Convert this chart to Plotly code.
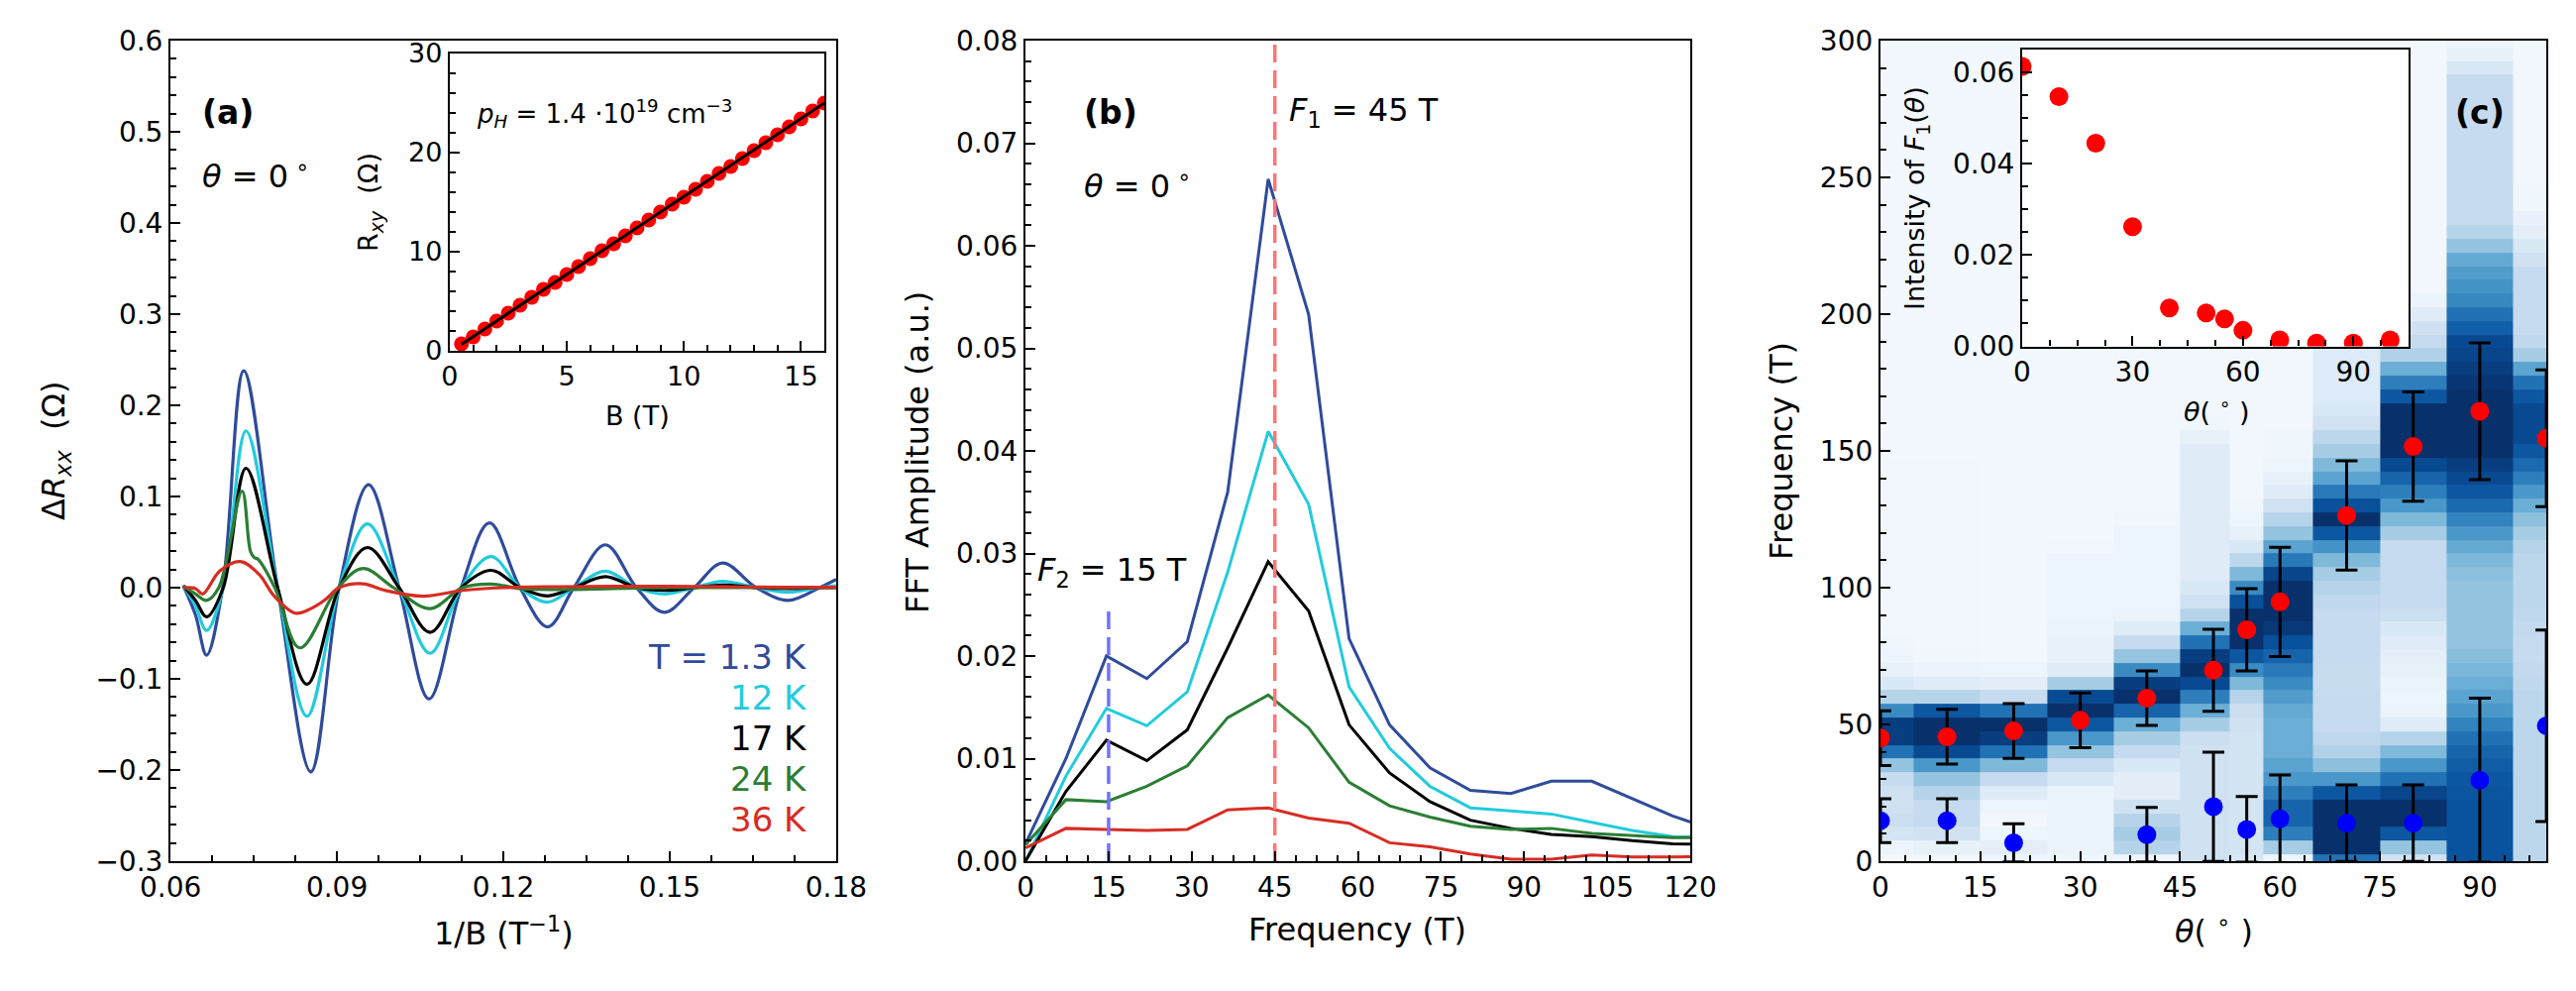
import plotly.graph_objects as go

FONT = "DejaVu Sans"

# ---------------- (a) oscillatory part of Rxx vs 1/B ----------------
temp_labels = ["T = 1.3 K", "12 K", "17 K", "24 K", "36 K"]
temp_colors = ["#2f4b9b", "#22cbdc", "#000000", "#2a7e34", "#d62d24"]

invb_13 = [0.0623, 0.0645, 0.0665, 0.0694, 0.0732, 0.0793, 0.0853, 0.0904, 0.0957, 0.1012,
           0.1066, 0.1124, 0.1175, 0.1230, 0.1280, 0.1327, 0.1384, 0.1440, 0.1490, 0.1544,
           0.1595, 0.1656, 0.1713, 0.1770, 0.1800]
drxx_13 = [0.002, -0.030, -0.074, 0.000, 0.238, 0.000, -0.202, 0.000, 0.113, 0.000,
           -0.122, 0.000, 0.071, 0.000, -0.043, 0.000, 0.047, 0.000, -0.027, 0.000,
           0.027, 0.000, -0.014, 0.000, 0.009]

invb_12 = [0.0623, 0.0645, 0.0665, 0.0695, 0.0736, 0.0793, 0.0846, 0.0904, 0.0955, 0.1012,
           0.1068, 0.1124, 0.1178, 0.1230, 0.1280, 0.1327, 0.1384, 0.1440, 0.1490, 0.1544,
           0.1595, 0.1656, 0.1713, 0.1770, 0.1800]
drxx_12 = [0.002, -0.020, -0.047, 0.000, 0.172, 0.000, -0.141, 0.000, 0.070, 0.000,
           -0.072, 0.000, 0.034, 0.000, -0.016, 0.000, 0.018, 0.000, -0.007, 0.000,
           0.007, 0.000, -0.005, 0.000, 0.002]

invb_17 = invb_12
drxx_17 = [0.002, -0.014, -0.032, 0.000, 0.131, 0.000, -0.106, 0.000, 0.044, 0.000,
           -0.049, 0.000, 0.019, 0.000, -0.009, 0.000, 0.012, 0.000, -0.003, 0.000,
           0.003, 0.000, -0.001, 0.000, 0.000]

invb_24 = [0.0623, 0.0645, 0.0665, 0.0687, 0.0729, 0.0744, 0.0751, 0.0758, 0.0788, 0.0833,
           0.0902, 0.0947, 0.1002, 0.1068, 0.1126, 0.1178, 0.1230, 0.1300, 0.1400, 0.1500,
           0.1600, 0.1700, 0.1800]
drxx_24 = [0.002, -0.007, -0.014, 0.000, 0.106, 0.040, 0.033, 0.031, 0.000, -0.066,
           0.000, 0.021, 0.000, -0.023, 0.000, 0.004, -0.001, -0.002, -0.001, 0.000,
           0.000, 0.000, 0.000]

invb_36 = [0.0623, 0.0645, 0.0658, 0.0689, 0.0726, 0.0759, 0.0788, 0.0825, 0.0853, 0.0878,
           0.0904, 0.0947, 0.0987, 0.1056, 0.1126, 0.1200, 0.1300, 0.1400, 0.1500, 0.1600,
           0.1700, 0.1800]
drxx_36 = [0.000, -0.001, -0.007, 0.0186, 0.0287, 0.015, -0.010, -0.028, -0.023, -0.0136,
           0.000, 0.0043, -0.003, -0.0093, -0.003, 0.000, 0.001, 0.0015, 0.0015, 0.001,
           0.0005, 0.0005]

# inset (a): Hall resistance
hall_b = [0.5, 1.0, 1.5, 2.0, 2.5, 3.0, 3.5, 4.0, 4.5, 5.0, 5.5, 6.0, 6.5, 7.0, 7.5, 8.0,
          8.5, 9.0, 9.5, 10.0, 10.5, 11.0, 11.5, 12.0, 12.5, 13.0, 13.5, 14.0, 14.5, 15.0,
          15.5, 16.0]
hall_r = [0.7, 1.4, 2.2, 3.0, 3.8, 4.6, 5.4, 6.2, 6.9, 7.7, 8.5, 9.3, 10.1, 10.8, 11.6, 12.4,
          13.2, 14.0, 14.8, 15.5, 16.3, 17.1, 17.9, 18.6, 19.4, 20.2, 21.0, 21.8, 22.6, 23.4,
          24.2, 25.0]
fit_b = [0.5, 16.0]
fit_r = [0.65, 25.0]

# ---------------- (b) FFT amplitude ----------------
fft_freq = [0, 7.3, 14.6, 21.9, 29.2, 36.5, 43.8, 51.1, 58.4, 65.7, 73.0, 80.3, 87.6, 94.9,
            102.2, 109.5, 116.8, 124.1]
fft_13 = [0.0017, 0.0100, 0.0200, 0.0178, 0.0214, 0.0360, 0.0665, 0.0533, 0.0217, 0.0133,
          0.0091, 0.0069, 0.0066, 0.0078, 0.0078, 0.0061, 0.0044, 0.0031]
fft_12 = [0.0000, 0.0083, 0.0149, 0.0132, 0.0165, 0.0282, 0.0419, 0.0348, 0.0170, 0.0110,
          0.0073, 0.0052, 0.0049, 0.0046, 0.0038, 0.0030, 0.0024, 0.0023]
fft_17 = [0.0000, 0.0068, 0.0118, 0.0098, 0.0128, 0.0208, 0.0292, 0.0244, 0.0133, 0.0086,
          0.0058, 0.0040, 0.0032, 0.0026, 0.0024, 0.0020, 0.0017, 0.0016]
fft_24 = [0.0016, 0.0060, 0.0058, 0.0073, 0.0093, 0.0140, 0.0162, 0.0130, 0.0077, 0.0054,
          0.0043, 0.0034, 0.0031, 0.0032, 0.0027, 0.0025, 0.0023, 0.0023]
fft_36 = [0.0013, 0.0032, 0.0031, 0.0030, 0.0031, 0.0050, 0.0052, 0.0042, 0.0037, 0.0018,
          0.0014, 0.0007, 0.0002, 0.0002, 0.0006, 0.0004, 0.0004, 0.0005]
F1 = 45
F2 = 15
F1_line_top = 0.08
F2_line_top = 0.025

# ---------------- (c) angular dependence ----------------
angles = [0, 10, 20, 30, 40, 50, 55, 60, 70, 80, 90, 100]
f1_angle = [45, 45.5, 47.6, 51.5, 59.6, 69.8, 84.6, 94.8, 126.4, 151.6, 164.5, 154.6]
f1_err = [10, 10, 10, 10, 10, 15, 15, 20, 20, 20, 25, 25]
f2_angle = [0, 10, 20, 40, 50, 55, 60, 70, 80, 90, 100]
f2_val = [14.8, 14.8, 6.7, 9.7, 19.9, 11.6, 15.5, 13.9, 13.9, 29.6, 49.5]
f2_err = [8, 8, 7, 10, 20, 12, 16, 14, 14, 30, 35]

# inset (c): intensity of F1
int_angle = [0, 10, 20, 30, 40, 50, 55, 60, 70, 80, 90, 100]
int_f1 = [0.0613, 0.0547, 0.0445, 0.0262, 0.0084, 0.0073, 0.0060, 0.0035, 0.0014, 0.0007,
          0.0007, 0.0014]

# FFT map (normalised intensity) sampled every 5 T from 0 to 300 T, one list per angle
heat_freq = [0, 5, 10, 15, 20, 25, 30, 35, 40, 45, 50, 55, 60, 65, 70, 75, 80, 85, 90, 95,
             100, 105, 110, 115, 120, 125, 130, 135, 140, 145, 150, 155, 160, 165, 170, 175,
             180, 185, 190, 195, 200, 205, 210, 215, 220, 225, 230, 235, 240, 245, 250, 255,
             260, 265, 270, 275, 280, 285, 290, 295, 300]
map_0 = [0.02, 0.05, 0.18, 0.22, 0.20, 0.20, 0.25, 0.40, 0.75, 0.95,
         0.95, 0.65, 0.30, 0.15, 0.08, 0.05, 0.04, 0.03, 0.03, 0.03,
         0.03, 0.03, 0.03, 0.03, 0.03, 0.03, 0.03, 0.03, 0.03, 0.03,
         0.02, 0.02, 0.02, 0.02, 0.02, 0.02, 0.02, 0.02, 0.02, 0.02,
         0.02, 0.02, 0.02, 0.02, 0.02, 0.02, 0.02, 0.02, 0.02, 0.02,
         0.02, 0.02, 0.02, 0.02, 0.02, 0.02, 0.02, 0.02, 0.02, 0.02, 0.02]
map_10 = [0.03, 0.08, 0.20, 0.25, 0.25, 0.30, 0.40, 0.60, 0.90, 1.00,
          1.00, 0.85, 0.30, 0.12, 0.06, 0.04, 0.03, 0.03, 0.03, 0.03,
          0.03, 0.03, 0.03, 0.03, 0.03, 0.03, 0.03, 0.03, 0.03, 0.03,
          0.02, 0.02, 0.02, 0.02, 0.02, 0.02, 0.02, 0.02, 0.02, 0.02,
          0.02, 0.02, 0.02, 0.02, 0.02, 0.02, 0.02, 0.02, 0.02, 0.02,
          0.02, 0.02, 0.02, 0.02, 0.02, 0.02, 0.02, 0.02, 0.02, 0.02, 0.02]
map_20 = [0.05, 0.10, 0.05, 0.03, 0.05, 0.12, 0.25, 0.45, 0.75, 0.95,
          1.00, 0.75, 0.25, 0.10, 0.05, 0.03, 0.02, 0.02, 0.02, 0.02,
          0.02, 0.02, 0.02, 0.02, 0.02, 0.02, 0.02, 0.02, 0.02, 0.02,
          0.02, 0.02, 0.02, 0.02, 0.02, 0.02, 0.02, 0.02, 0.02, 0.02,
          0.02, 0.02, 0.02, 0.02, 0.02, 0.02, 0.02, 0.02, 0.02, 0.02,
          0.02, 0.02, 0.02, 0.02, 0.02, 0.02, 0.02, 0.02, 0.02, 0.02, 0.02]
map_30 = [0.05, 0.06, 0.06, 0.06, 0.06, 0.06, 0.15, 0.25, 0.40, 0.60,
          0.85, 1.00, 0.90, 0.35, 0.12, 0.08, 0.07, 0.06, 0.05, 0.05,
          0.05, 0.05, 0.05, 0.03, 0.02, 0.02, 0.02, 0.02, 0.02, 0.02,
          0.02, 0.02, 0.02, 0.02, 0.02, 0.02, 0.02, 0.02, 0.02, 0.02,
          0.02, 0.02, 0.02, 0.02, 0.02, 0.02, 0.02, 0.02, 0.02, 0.02,
          0.02, 0.02, 0.02, 0.02, 0.02, 0.02, 0.02, 0.02, 0.02, 0.02, 0.02]
map_40 = [0.05, 0.30, 0.35, 0.30, 0.20, 0.10, 0.10, 0.15, 0.25, 0.35,
          0.50, 0.80, 1.00, 0.95, 0.65, 0.40, 0.25, 0.12, 0.06, 0.05,
          0.05, 0.05, 0.05, 0.05, 0.05, 0.04, 0.03, 0.03, 0.03, 0.03,
          0.03, 0.03, 0.03, 0.03, 0.03, 0.03, 0.03, 0.03, 0.03, 0.03,
          0.03, 0.03, 0.03, 0.03, 0.03, 0.03, 0.03, 0.03, 0.03, 0.03,
          0.03, 0.03, 0.03, 0.03, 0.03, 0.03, 0.03, 0.03, 0.03, 0.03, 0.03]
map_50 = [0.20, 0.20, 0.20, 0.20, 0.20, 0.20, 0.20, 0.20, 0.20, 0.22,
          0.35, 0.50, 0.70, 0.90, 1.00, 0.95, 0.75, 0.50, 0.30, 0.20,
          0.15, 0.12, 0.12, 0.12, 0.12, 0.12, 0.12, 0.12, 0.12, 0.12,
          0.12, 0.08, 0.04, 0.03, 0.03, 0.03, 0.03, 0.03, 0.03, 0.03,
          0.03, 0.03, 0.03, 0.03, 0.03, 0.03, 0.03, 0.03, 0.03, 0.03,
          0.03, 0.03, 0.03, 0.03, 0.03, 0.03, 0.03, 0.03, 0.03, 0.03, 0.03]
map_55 = [0.15, 0.18, 0.18, 0.18, 0.18, 0.18, 0.18, 0.18, 0.18, 0.18,
          0.20, 0.22, 0.30, 0.45, 0.65, 0.85, 1.00, 1.00, 1.00, 0.88,
          0.65, 0.45, 0.28, 0.15, 0.08, 0.05, 0.04, 0.03, 0.03, 0.03,
          0.03, 0.03, 0.03, 0.03, 0.03, 0.03, 0.03, 0.03, 0.03, 0.03,
          0.03, 0.03, 0.03, 0.03, 0.03, 0.03, 0.03, 0.03, 0.03, 0.03,
          0.03, 0.03, 0.03, 0.03, 0.03, 0.03, 0.03, 0.03, 0.03, 0.03, 0.03]
map_60 = [0.05, 0.35, 0.70, 0.80, 0.80, 0.70, 0.60, 0.55, 0.50, 0.50,
          0.50, 0.52, 0.58, 0.65, 0.72, 0.80, 0.88, 0.97, 1.00, 1.00,
          1.00, 0.92, 0.72, 0.55, 0.40, 0.30, 0.20, 0.12, 0.08, 0.05,
          0.04, 0.04, 0.03, 0.03, 0.03, 0.03, 0.03, 0.03, 0.03, 0.03,
          0.03, 0.03, 0.03, 0.03, 0.03, 0.03, 0.03, 0.03, 0.03, 0.03,
          0.03, 0.03, 0.03, 0.03, 0.03, 0.03, 0.03, 0.03, 0.03, 0.03, 0.03]
map_70 = [0.75, 1.00, 1.00, 1.00, 1.00, 0.85, 0.60, 0.42, 0.32, 0.27,
          0.25, 0.25, 0.25, 0.24, 0.24, 0.25, 0.25, 0.25, 0.25, 0.27,
          0.30, 0.35, 0.45, 0.62, 0.85, 1.00, 0.88, 0.72, 0.55, 0.45,
          0.35, 0.28, 0.20, 0.15, 0.13, 0.13, 0.13, 0.13, 0.13, 0.10,
          0.07, 0.04, 0.03, 0.03, 0.03, 0.03, 0.03, 0.03, 0.03, 0.03,
          0.03, 0.03, 0.03, 0.03, 0.03, 0.03, 0.03, 0.03, 0.03, 0.03, 0.03]
map_80 = [0.20, 0.40, 0.85, 1.00, 1.00, 0.92, 0.75, 0.60, 0.45, 0.30,
          0.12, 0.06, 0.05, 0.06, 0.08, 0.10, 0.12, 0.15, 0.22, 0.25,
          0.25, 0.25, 0.25, 0.25, 0.35, 0.45, 0.60, 0.70, 0.80, 0.90,
          1.00, 1.00, 1.00, 1.00, 0.85, 0.70, 0.50, 0.32, 0.25, 0.20,
          0.12, 0.06, 0.03, 0.03, 0.03, 0.03, 0.03, 0.03, 0.03, 0.03,
          0.03, 0.03, 0.03, 0.03, 0.03, 0.03, 0.03, 0.03, 0.03, 0.03, 0.03]
map_90 = [0.87, 0.87, 0.87, 0.87, 0.87, 0.86, 0.85, 0.83, 0.80, 0.75,
          0.68, 0.60, 0.55, 0.50, 0.46, 0.43, 0.40, 0.40, 0.40, 0.40,
          0.40, 0.42, 0.45, 0.52, 0.60, 0.68, 0.78, 0.85, 0.90, 0.95,
          1.00, 1.00, 1.00, 1.00, 1.00, 0.98, 0.95, 0.92, 0.90, 0.82,
          0.75, 0.66, 0.62, 0.58, 0.52, 0.40, 0.30, 0.25, 0.25, 0.25,
          0.25, 0.25, 0.25, 0.25, 0.25, 0.25, 0.25, 0.25, 0.15, 0.08, 0.05]
map_100 = [0.28, 0.28, 0.28, 0.28, 0.28, 0.28, 0.28, 0.28, 0.28, 0.28,
           0.28, 0.28, 0.28, 0.27, 0.26, 0.25, 0.25, 0.26, 0.27, 0.28,
           0.28, 0.28, 0.28, 0.30, 0.35, 0.42, 0.50, 0.60, 0.70, 0.78,
           0.85, 0.90, 0.90, 0.90, 0.85, 0.75, 0.55, 0.35, 0.27, 0.25,
           0.25, 0.25, 0.25, 0.25, 0.20, 0.15, 0.10, 0.07, 0.04, 0.04,
           0.03, 0.03, 0.03, 0.03, 0.03, 0.03, 0.03, 0.03, 0.03, 0.03, 0.03]

map_columns = [map_0, map_10, map_20, map_30, map_40, map_50, map_55, map_60,
               map_70, map_80, map_90, map_100]
heat_z = [[col[i] for col in map_columns] for i in range(len(heat_freq))]

blues = [[0.0, "#f7fbff"], [0.125, "#deebf7"], [0.25, "#c6dbef"], [0.375, "#9ecae1"],
         [0.5, "#6baed6"], [0.625, "#4292c6"], [0.75, "#2171b5"], [0.875, "#08519c"],
         [1.0, "#08306b"]]

fig = go.Figure()

# (a)
for xs, ys, col in zip([invb_13, invb_12, invb_17, invb_24, invb_36],
                       [drxx_13, drxx_12, drxx_17, drxx_24, drxx_36], temp_colors):
    fig.add_scatter(x=xs, y=ys, mode="lines", line=dict(color=col, width=3.2, shape="spline",
                    smoothing=1.0), xaxis="x", yaxis="y", showlegend=False)

# (b)
for ys, col in zip([fft_13, fft_12, fft_17, fft_24, fft_36], temp_colors):
    fig.add_scatter(x=fft_freq, y=ys, mode="lines", line=dict(color=col, width=3),
                    xaxis="x2", yaxis="y2", showlegend=False)
fig.add_scatter(x=[F1, F1], y=[0, F1_line_top], mode="lines",
                line=dict(color="#ff7474", width=3.5, dash="18px,8px"),
                xaxis="x2", yaxis="y2", showlegend=False)
fig.add_scatter(x=[F2, F2], y=[0, F2_line_top], mode="lines",
                line=dict(color="#7272ff", width=3.5, dash="18px,8px"),
                xaxis="x2", yaxis="y2", showlegend=False)

# (c)
fig.add_heatmap(x=angles, y=heat_freq, z=heat_z, colorscale=blues, zmin=0, zmax=1,
                showscale=False, xaxis="x3", yaxis="y3", hoverinfo="skip")
fig.add_scatter(x=angles, y=f1_angle, mode="markers",
                marker=dict(color="#ff0000", size=19, line=dict(width=0)),
                error_y=dict(type="data", array=f1_err, color="black", thickness=3, width=11),
                xaxis="x3", yaxis="y3", showlegend=False)
fig.add_scatter(x=f2_angle, y=f2_val, mode="markers",
                marker=dict(color="#0000ff", size=19, line=dict(width=0)),
                error_y=dict(type="data", array=f2_err, color="black", thickness=3, width=11),
                xaxis="x3", yaxis="y3", showlegend=False)

# inset (a)
fig.add_scatter(x=hall_b, y=hall_r, mode="markers",
                marker=dict(color="#ff0000", size=15, line=dict(width=0)),
                xaxis="x4", yaxis="y4", showlegend=False)
fig.add_scatter(x=fit_b, y=fit_r, mode="lines", line=dict(color="black", width=3),
                xaxis="x4", yaxis="y4", showlegend=False)

# inset (c)
fig.add_scatter(x=int_angle, y=int_f1, mode="markers",
                marker=dict(color="#ff0000", size=19, line=dict(width=0)),
                xaxis="x5", yaxis="y5", showlegend=False)


def axis(domain, rng, dtick, minor, anchor, fmt=None, size=28, tick0=0):
    return dict(domain=domain, range=rng, dtick=dtick, tick0=tick0, anchor=anchor,
                ticks="inside", ticklen=10, tickwidth=2, tickcolor="black",
                minor=dict(dtick=minor, tick0=tick0, ticks="inside", ticklen=6,
                           tickwidth=1.6, tickcolor="black"),
                showline=True, linewidth=2.2, linecolor="black", mirror=True,
                showgrid=False, zeroline=False, tickformat=fmt,
                tickfont=dict(family=FONT, size=size, color="black"))


ya = [0.131, 0.959]
fig.update_layout(
    xaxis=axis([0.0662, 0.3246], [0.06, 0.18], 0.03, 0.0075, "y", ".2f", tick0=0.06),
    yaxis=axis(ya, [-0.3, 0.6], 0.1, 0.02, "x", ".1f"),
    xaxis2=axis([0.3981, 0.6562], [0, 120], 15, 3.75, "y2"),
    yaxis2=axis(ya, [0, 0.08], 0.01, 0.002, "x2", ".2f"),
    xaxis3=axis([0.7300, 0.9885], [0, 100], 15, 3.75, "y3"),
    yaxis3=axis(ya, [0, 300], 50, 10, "x3"),
    xaxis4=axis([0.1746, 0.3200], [0, 16], 5, 1, "y4", size=27),
    yaxis4=axis([0.646, 0.946], [0, 30], 10, 2, "x4", size=27),
    xaxis5=axis([0.7850, 0.9350], [0, 105], 30, 7.5, "y5"),
    yaxis5=axis([0.6505, 0.950], [0, 0.065], 0.02, 0.005, "x5", ".2f"),
    width=2600, height=1000,
    margin=dict(l=0, r=0, t=0, b=0),
    paper_bgcolor="white", plot_bgcolor="white",
    template="none",
    showlegend=False,
    font=dict(family=FONT, color="black"),
)


def note(text, x, y, xref, yref, size=32, xanchor="left", color="black", angle=0):
    return dict(text=text, x=x, y=y, xref=xref, yref=yref, xanchor=xanchor,
                yanchor="middle", showarrow=False, textangle=angle,
                font=dict(family=FONT, size=size, color=color))


W, H = 2600.0, 1000.0
notes = [
    # panel (a)
    note("<b>(a)</b>", 0.0654, 0.521, "x", "y", 33),
    note("<i>θ</i> = 0<sup> ∘</sup>", 0.0654, 0.453, "x", "y", 32),
    note("<i>p</i><sub><i>H</i></sub> = 1.4 ·10<sup>19</sup> cm<sup>−3</sup>",
         1.05, 24.0, "x4", "y4", 26),
    note("1/B (T<sup>−1</sup>)", 508 / W, 1 - 940 / H, "paper", "paper", 32, "center"),
    note("Δ<i>R</i><sub><i>xx</i></sub>  (Ω)", 56 / W, 1 - 455 / H, "paper", "paper", 32,
         "center", angle=-90),
    note("B (T)", 643 / W, 1 - 420 / H, "paper", "paper", 27, "center"),
    note("R<sub><i>xy</i></sub>  (Ω)", 374 / W, 1 - 204 / H, "paper", "paper", 27,
         "center", angle=-90),
    # panel (b)
    note("<b>(b)</b>", 10.2, 0.073, "x2", "y2", 33),
    note("<i>θ</i> = 0<sup> ∘</sup>", 10.2, 0.066, "x2", "y2", 32),
    note("<i>F</i><sub>1</sub> = 45 T", 47.2, 0.073, "x2", "y2", 32),
    note("<i>F</i><sub>2</sub> = 15 T", 1.8, 0.0282, "x2", "y2", 32),
    note("Frequency (T)", 1370 / W, 1 - 938 / H, "paper", "paper", 32, "center"),
    note("FFT Amplitude (a.u.)", 926 / W, 1 - 457 / H, "paper", "paper", 32, "center",
         angle=-90),
    # panel (c)
    note("<b>(c)</b>", 86.0, 273.6, "x3", "y3", 33),
    note("<i>θ</i>( <sup>∘</sup> )", 2234 / W, 1 - 938 / H, "paper", "paper", 32, "center"),
    note("Frequency (T)", 1798 / W, 1 - 455 / H, "paper", "paper", 32, "center", angle=-90),
    note("<i>θ</i>( <sup>∘</sup> )", 2237 / W, 1 - 414 / H, "paper", "paper", 27, "center"),
    note("Intensity of <i>F</i><sub>1</sub>(<i>θ</i>)", 1935 / W, 1 - 200 / H, "paper",
         "paper", 27, "center", angle=-90),
]
legend_y = [-0.0756, -0.1202, -0.1648, -0.2094, -0.254]
for lab, col, yy in zip(temp_labels, temp_colors, legend_y):
    notes.append(note(lab, 0.1752, yy, "x", "y", 34, "right", col))

fig.update_layout(annotations=notes)

# remove the default page margin so the figure sits at the window origin
fig.write_html("out.html", config={"displayModeBar": False},
               post_script="document.body.style.margin='0';")
